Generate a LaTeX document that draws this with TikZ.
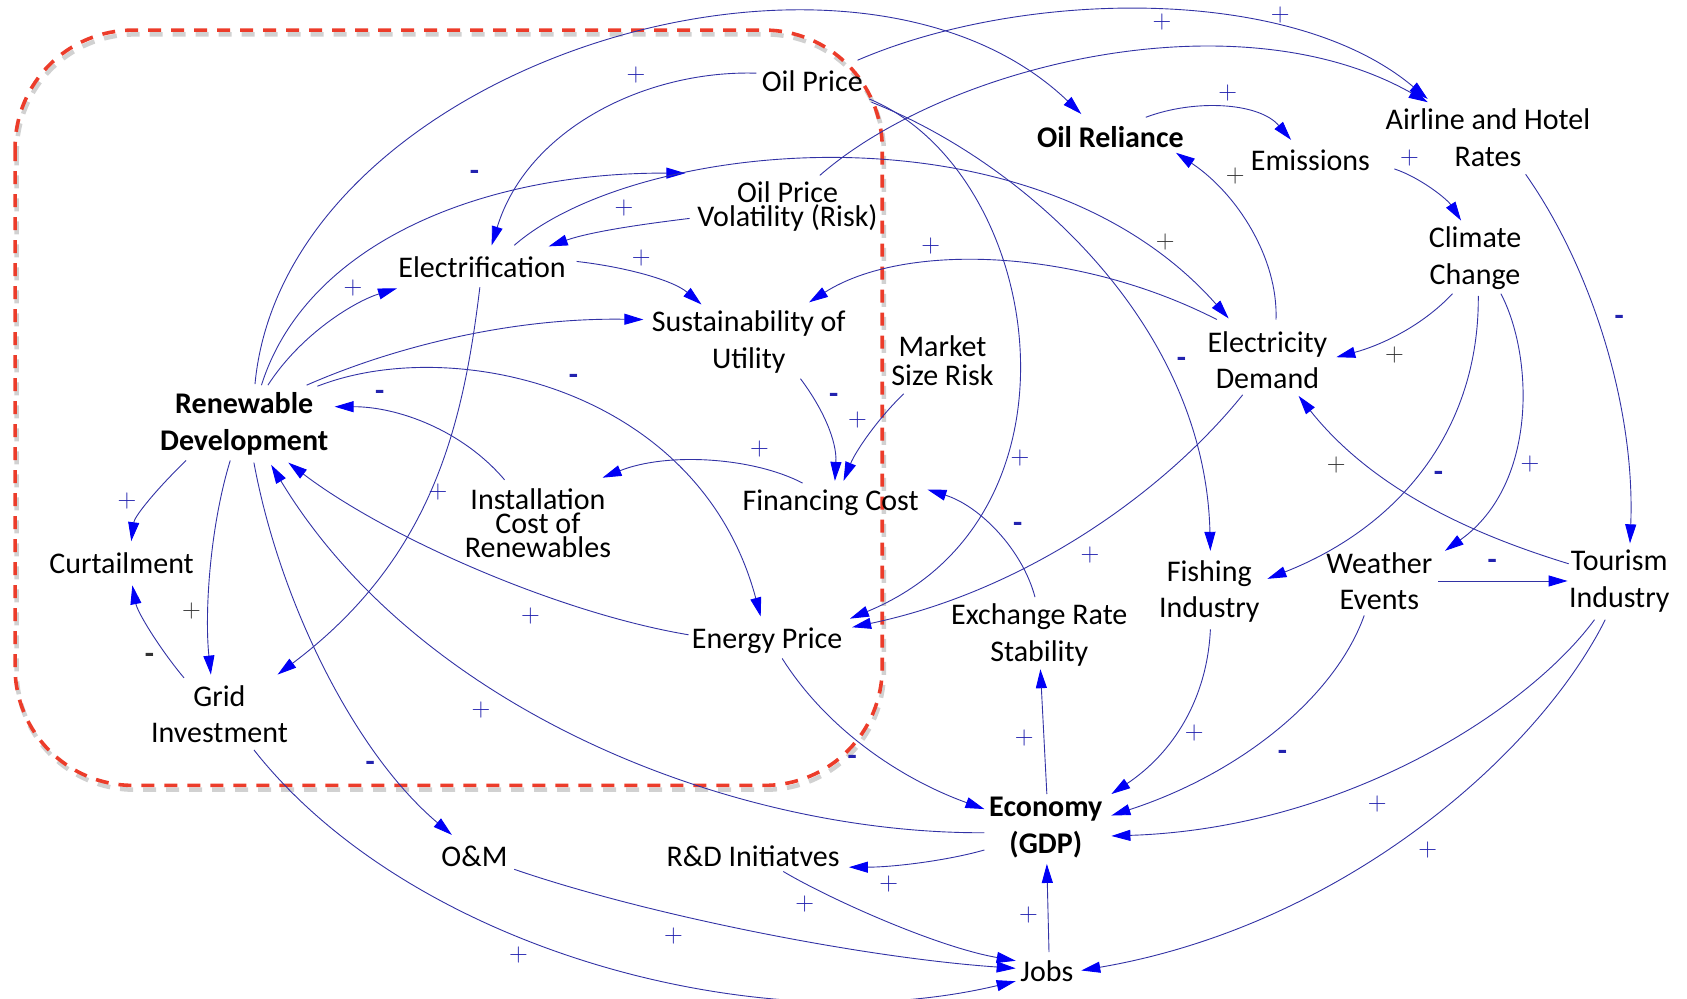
\documentclass[tikz,border=0pt]{standalone}
\usepackage{fontspec}
\newfontfamily\carl{Carlito}
\usetikzlibrary{arrows.meta,calc}
\definecolor{lnk}{RGB}{50,50,165}
\definecolor{tipb}{RGB}{0,0,245}
\definecolor{sgnb}{RGB}{35,35,175}
\definecolor{sgnk}{RGB}{50,50,50}
\definecolor{dred}{RGB}{236,60,42}
\setlength{\lineskiplimit}{-50pt}
\begin{document}
\begin{tikzpicture}[x=1.0759pt,y=-1.0759pt,
  lbl/.style={font=\carl\fontsize{30}{36.5}\selectfont,align=center,inner sep=0pt,text=black},
  lbt/.style={font=\carl\fontsize{30}{24}\selectfont,align=center,inner sep=0pt,text=black},
  lbm/.style={font=\carl\fontsize{30}{29}\selectfont,align=center,inner sep=0pt,text=black},
  lbb/.style={font=\carl\bfseries\fontsize{30}{36.5}\selectfont,align=center,inner sep=0pt,text=black},
  lk/.style={draw=lnk,line width=0.9pt,-{Triangle[length=19pt,width=11pt,color=tipb]}},
  pb/.style={font=\fontsize{26}{26}\selectfont,text=sgnb,inner sep=0pt},
  pk/.style={pb,text=sgnk},
  mb/.style={font=\carl\bfseries\fontsize{30}{30}\selectfont,text=sgnb,inner sep=0pt},
  mk/.style={mb,text=sgnk},
  box/.style={line width=3.6pt,dash pattern=on 13pt off 10pt,rounded corners=118pt}
]
\useasboundingbox (0,0) rectangle (1568,928);
% dashed region with shadow
\draw[box,black!60,opacity=0.3,line width=4.5pt] (15.5,32) rectangle (821.5,734);
\draw[box,dred] (14,28) rectangle (820,730);

% nodes
\node[lbl] (OilPrice) at (755,75) {Oil Price};
\node[lbb] (OilRel) at (1032,127) {Oil Reliance};
\node[lbl] (Emis) at (1218,149) {Emissions};
\node[lbl] (Airline) at (1383,128) {Airline and Hotel\\Rates};
\node[lbl] (Climate) at (1371,240) {Climate\\Change};
\node[lbl] (ElecDem) at (1178,335) {Electricity\\Demand};
\node[lbt] (OPV) at (732,192) {Oil Price\\Volatility (Risk)};
\node[lbl] (Electrif) at (448,248) {Electrification};
\node[lbl] (Sust) at (696,318) {Sustainability of\\Utility};
\node[lbm] (Market) at (876,335) {Market\\Size Risk};
\node[lbb] (RD) at (227,394) {Renewable\\Development};
\node[lbt] (Install) at (500,486) {Installation\\Cost of\\Renewables};
\node[lbl] (FinCost) at (772,467) {Financing Cost};
\node[lbl] (Curt) at (113,523) {Curtailment};
\node[lbl] (Grid) at (204,664) {Grid\\Investment};
\node[lbl] (EP) at (713,596) {Energy Price};
\node[lbl] (Exch) at (966,590) {Exchange Rate\\Stability};
\node[lbl] (Fish) at (1124,550) {Fishing\\Industry};
\node[lbl] (Weather) at (1282,540) {Weather\\Events};
\node[lbl] (Tourism) at (1505,540) {Tourism\\Industry};
\node[lbb] (Econ) at (972,769) {Economy\\(GDP)};
\node[lbl] (OM) at (441,796) {O\&M};
\node[lbl] (RnD) at (700,796) {R\&D Initiatves};
\node[lbl] (Jobs) at (973,903) {Jobs};

% links
\draw[lk] ($(RD)+(10,-37)$) .. controls (265,60) and (790,-100) .. ($(OilRel)+(-27,-21)$);
\draw[lk] ($(RD)+(16,-36)$) .. controls (285,225) and (450,160) .. ($(OPV)+(-95,-31)$);
\draw[lk] ($(RD)+(22,-36)$) .. controls (280,310) and (330,280) .. ($(Electrif)+(-79,20)$);
\draw[lk] ($(RD)+(58,-36)$) .. controls (360,325) and (470,295) .. ($(Sust)+(-98,-21)$);
\draw[lk] ($(RD)+(68,-35)$) .. controls (420,310) and (650,360) .. ($(EP)+(-6,-23)$);
\draw[lk] ($(Install)+(-31,-40)$) .. controls (430,400) and (370,378) .. ($(RD)+(84,-16)$);
\draw[lk] ($(EP)+(-73,-6)$) .. controls (520,570) and (360,500) .. ($(RD)+(41,36)$);
\draw[lk] ($(Econ)+(-57,5)$) .. controls (680,775) and (390,660) .. ($(RD)+(25,38)$);
\draw[lk] ($(RD)+(-54,34)$) .. controls (145,455) and (125,480) .. ($(Curt)+(9,-20)$);
\draw[lk] ($(RD)+(-13,34)$) .. controls (195,490) and (190,570) .. ($(Grid)+(-8,-37)$);
\draw[lk] ($(Grid)+(-33,-34)$) .. controls (150,605) and (128,570) .. ($(Curt)+(10,21)$);
\draw[lk] ($(Electrif)+(-2,19)$) .. controls (430,400) and (400,520) .. ($(Grid)+(54,-37)$);
\draw[lk] ($(RD)+(9,36)$) .. controls (260,560) and (330,700) .. ($(OM)+(-21,-20)$);
\draw[lk] ($(Grid)+(32,33)$) .. controls (380,880) and (700,970) .. ($(Jobs)+(-29,9)$);
\draw[lk] ($(OM)+(37,12)$) .. controls (600,850) and (800,890) .. ($(Jobs)+(-29,-3)$);
\draw[lk] ($(RnD)+(28,14)$) .. controls (770,835) and (870,880) .. ($(Jobs)+(-29,-10)$);
\draw[lk] ($(Econ)+(-57,21)$) .. controls (880,800) and (830,806) .. ($(RnD)+(89,10)$);
\draw[lk] ($(Jobs)+(2,-18)$) -- ($(Econ)+(1,34)$);
\draw[lk] ($(Econ)+(1,-31)$) -- ($(Exch)+(1,32)$);
\draw[lk] ($(EP)+(14,16)$) .. controls (770,680) and (840,725) .. ($(Econ)+(-57,-17)$);
\draw[lk] ($(Fish)+(1,35)$) .. controls (1122,650) and (1090,700) .. ($(Econ)+(61,-31)$);
\draw[lk] ($(Weather)+(-14,32)$) .. controls (1240,650) and (1150,720) .. ($(Econ)+(61,-11)$);
\draw[lk] ($(Tourism)+(-23,36)$) .. controls (1420,660) and (1250,770) .. ($(Econ)+(61,8)$);
\draw[lk] ($(Tourism)+(-13,36)$) .. controls (1430,700) and (1250,860) .. ($(Jobs)+(32,-1)$);
\draw[lk] ($(Exch)+(-4,-35)$) .. controls (950,510) and (910,470) .. ($(FinCost)+(90,-12)$);
\draw[lk] ($(Sust)+(48,34)$) .. controls (765,380) and (778,410) .. ($(FinCost)+(4,-20)$);
\draw[lk] ($(Market)+(-36,31)$) .. controls (815,390) and (795,420) .. ($(FinCost)+(12,-20)$);
\draw[lk] ($(FinCost)+(-26,-18)$) .. controls (700,425) and (620,420) .. ($(Install)+(60,-42)$);
\draw[lk] ($(ElecDem)+(-23,32)$) .. controls (1080,460) and (950,550) .. ($(EP)+(79,-13)$);
\draw[lk] ($(OilPrice)+(53,17)$) .. controls (970,160) and (1020,480) .. ($(EP)+(77,-21)$);
\draw[lk] ($(OilPrice)+(55,20)$) .. controls (950,150) and (1120,300) .. ($(Fish)+(1,-38)$);
\draw[lk] ($(Electrif)+(30,-20)$) .. controls (590,130) and (960,90) .. ($(ElecDem)+(-36,-39)$);
\draw[lk] ($(OPV)+(-91,11)$) .. controls (600,208) and (550,215) .. ($(Electrif)+(62,-19)$);
\draw[lk] ($(OilPrice)+(-52,-7)$) .. controls (600,65) and (490,120) .. ($(Electrif)+(9,-20)$);
\draw[lk] ($(Electrif)+(88,-5)$) .. controls (580,248) and (625,260) .. ($(Sust)+(-44,-35)$);
\draw[lk] ($(ElecDem)+(-47,-38)$) .. controls (1000,230) and (840,225) .. ($(Sust)+(56,-37)$);
\draw[lk] ($(ElecDem)+(8,-38)$) .. controls (1188,240) and (1150,180) .. ($(OilRel)+(61,15)$);
\draw[lk] ($(OilRel)+(33,-18)$) .. controls (1110,92) and (1170,95) .. ($(Emis)+(-18,-19)$);
\draw[lk] ($(Emis)+(78,8)$) .. controls (1320,165) and (1345,185) .. ($(Climate)+(-13,-35)$);
\draw[lk] ($(OilPrice)+(42,-19)$) .. controls (950,-10) and (1200,-15) .. ($(Airline)+(-56,-36)$);
\draw[lk] ($(OPV)+(30,-29)$) .. controls (880,60) and (1150,-5) .. ($(Airline)+(-56,-33)$);
\draw[lk] ($(Airline)+(35,34)$) .. controls (1480,250) and (1520,380) .. ($(Tourism)+(10,-35)$);
\draw[lk] ($(Climate)+(-21,33)$) .. controls (1320,305) and (1280,322) .. ($(ElecDem)+(64,-3)$);
\draw[lk] ($(Climate)+(3,35)$) .. controls (1375,400) and (1300,490) .. ($(Fish)+(54,-12)$);
\draw[lk] ($(Climate)+(24,33)$) .. controls (1425,330) and (1430,450) .. ($(Weather)+(61,-28)$);
\draw[lk] ($(Tourism)+(-47,-16)$) .. controls (1380,500) and (1280,460) .. ($(ElecDem)+(29,33)$);
\draw[lk] ($(Weather)+(55,0)$) -- ($(Tourism)+(-48,0)$);

% polarity signs
\node[mb] (s2) at (441,163) {-};
\node[pb] (s3) at (328,268) {+};
\node[mb] (s5) at (533,353) {-};
\node[mb] (s6) at (353,368) {-};
\node[pb] (s7) at (493,573) {+};
\node[pb] (s8) at (447,660) {+};
\node[pb] (s9) at (118,466) {+};
\node[pk] (s10) at (178,568) {+};
\node[mk] (s11) at (139,612) {-};
\node[pb] (s12) at (407,457) {+};
\node[mb] (s13) at (344,712) {-};
\node[pb] (s14) at (482,888) {+};
\node[pb] (s15) at (626,870) {+};
\node[pb] (s16) at (748,840) {+};
\node[pb] (s17) at (826,822) {+};
\node[pb] (s18) at (956,850) {+};
\node[pb] (s19) at (952,686) {+};
\node[mb] (s20) at (792,707) {-};
\node[pb] (s21) at (1110,681) {+};
\node[mb] (s22) at (1192,702) {-};
\node[pb] (s23) at (1280,747) {+};
\node[pb] (s24) at (1327,790) {+};
\node[mb] (s25) at (946,490) {-};
\node[mb] (s26) at (775,370) {-};
\node[pb] (s27) at (797,390) {+};
\node[pb] (s28) at (706,417) {+};
\node[pb] (s29) at (1013,516) {+};
\node[pb] (s30) at (948,426) {+};
\node[mb] (s31) at (1098,337) {-};
\node[pk] (s32) at (1083,225) {+};
\node[pb] (s33) at (580,193) {+};
\node[pb] (s34) at (591,70) {+};
\node[pb] (s35) at (596,240) {+};
\node[pb] (s36) at (865,229) {+};
\node[pk] (s37) at (1148,164) {+};
\node[pb] (s38) at (1141,86) {+};
\node[pb] (s39) at (1310,147) {+};
\node[pb] (s40) at (1190,14) {+};
\node[pb] (s41) at (1080,20) {+};
\node[mb] (s42) at (1505,298) {-};
\node[pk] (s43) at (1296,330) {+};
\node[mb] (s44) at (1337,443) {-};
\node[pb] (s45) at (1422,431) {+};
\node[pk] (s46) at (1242,432) {+};
\node[mb] (s47) at (1387,525) {-};
\end{tikzpicture}
\end{document}
